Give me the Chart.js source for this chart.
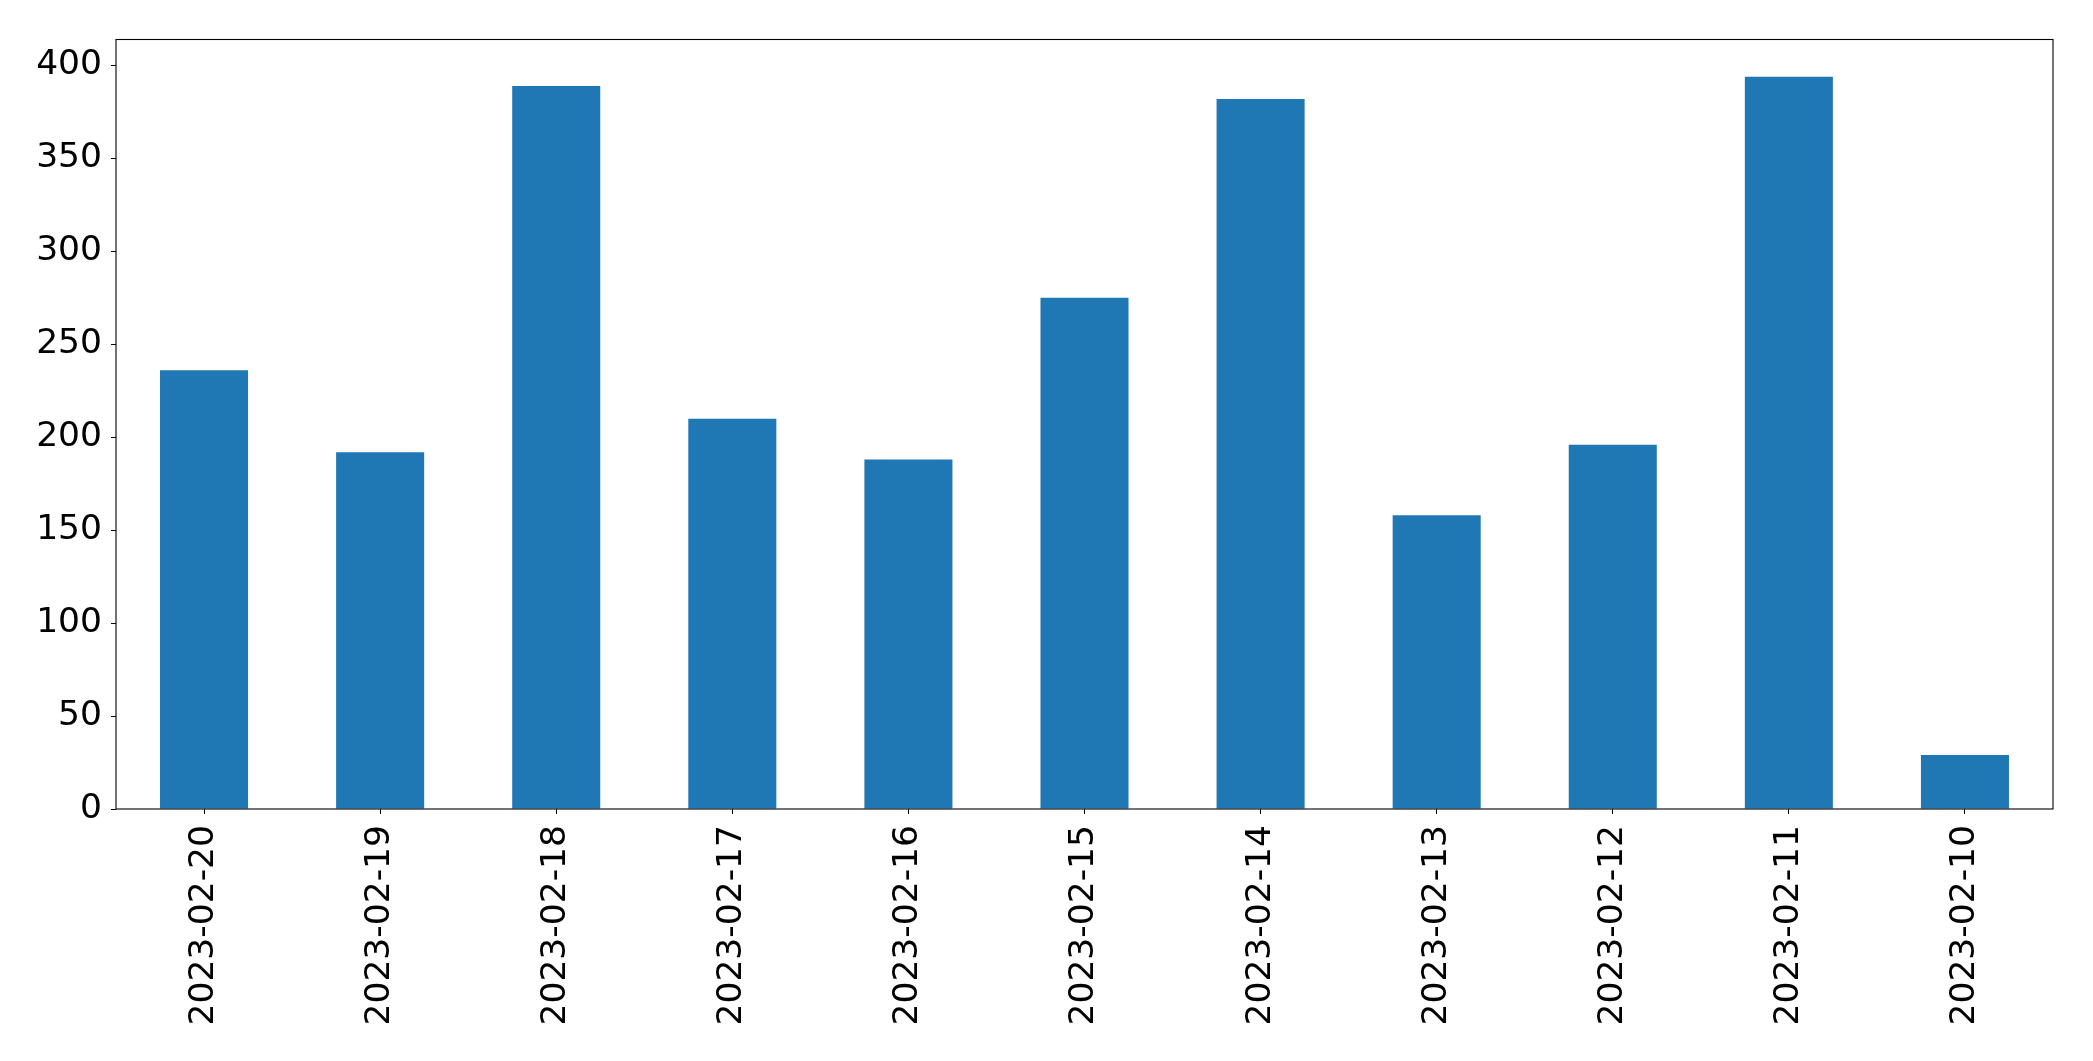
<!DOCTYPE html>
<html>
<head>
<meta charset="utf-8">
<script src="https://cdn.jsdelivr.net/npm/chart.js@4/dist/chart.umd.min.js"></script>
<style>
  html, body { margin: 0; padding: 0; background: #ffffff; }
  #wrap { width: 2093px; height: 1061px; position: relative; }
</style>
</head>
<body>
<div id="wrap"><canvas id="c" width="2093" height="1061"></canvas></div>
<script>
const categories = ["2023-02-20","2023-02-19","2023-02-18","2023-02-17","2023-02-16","2023-02-15","2023-02-14","2023-02-13","2023-02-12","2023-02-11","2023-02-10"];
const values = [236, 192, 389, 210, 188, 275, 382, 158, 196, 394, 29];
const yTicks = [0, 50, 100, 150, 200, 250, 300, 350, 400];
const yMax = 414;

const frame = {
  id: 'frame',
  afterDatasetsDraw(chart) {
    const a = chart.chartArea;
    const ctx = chart.ctx;
    ctx.save();
    ctx.strokeStyle = '#000';
    ctx.lineWidth = 1.1;
    ctx.strokeRect(a.left, a.top, a.right - a.left, a.bottom - a.top);
    ctx.restore();
  }
};

new Chart(document.getElementById('c'), {
  type: 'bar',
  data: {
    labels: categories,
    datasets: [{
      data: values,
      backgroundColor: '#1f77b4',
      borderWidth: 0,
      categoryPercentage: 1.0,
      barPercentage: 0.5
    }]
  },
  options: {
    responsive: false,
    animation: false,
    devicePixelRatio: 1,
    layout: { padding: { top: 39.5, right: 40, left: 0, bottom: 0 } },
    plugins: { legend: { display: false }, tooltip: { enabled: false } },
    scales: {
      x: {
        offset: true,
        grid: { display: true, drawOnChartArea: false, drawTicks: true, tickLength: 5, tickColor: '#000', offset: false },
        border: { display: false },
        ticks: {
          color: '#000',
          font: { family: 'DejaVu Sans', size: 34.5 },
          maxRotation: 90, minRotation: 90,
          padding: 11,
          autoSkip: false
        },
        afterFit(s) { s.height = 1061 - 809; }
      },
      y: {
        min: 0, max: yMax,
        afterBuildTicks(s) { s.ticks = yTicks.map(v => ({ value: v })); },
        grid: { display: true, drawOnChartArea: false, drawTicks: true, tickLength: 5, tickColor: '#000' },
        border: { display: false },
        ticks: {
          color: '#000',
          font: { family: 'DejaVu Sans', size: 34.5 },
          padding: 9
        },
        afterFit(s) { s.width = 116; }
      }
    }
  },
  plugins: [frame]
});
</script>
</body>
</html>
